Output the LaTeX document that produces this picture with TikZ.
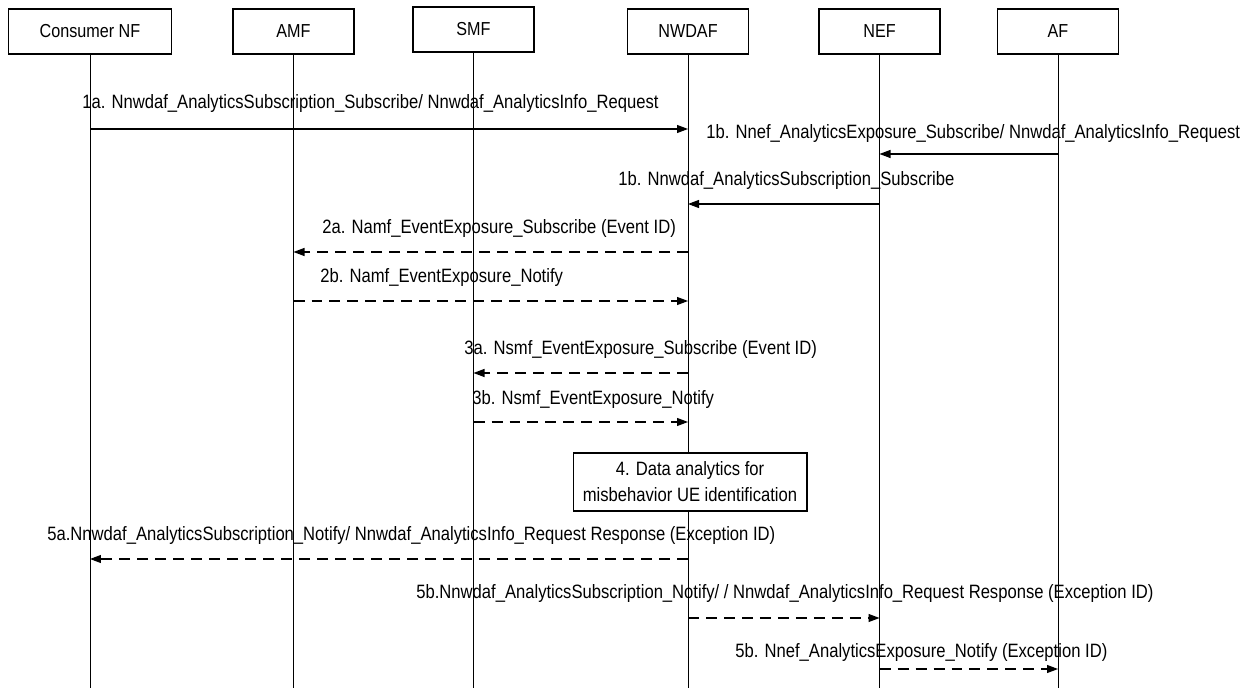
\documentclass[tikz,border=0pt]{standalone}
\usepackage{fontspec}
\setmainfont{Liberation Sans}[FakeStretch=0.86]
\usepackage{tikz}
\usepackage{xcolor}
\usetikzlibrary{arrows.meta, positioning}
\definecolor{lineBlack}{RGB}{0,0,0}
\tikzset{
    partbox/.style={
        rectangle,
        draw=lineBlack,
        line width=0.6pt,
        align=center,
        fill=white,
        minimum width=2.42cm,
        minimum height=0.9cm,
        font=\fontsize{10.7pt}{12pt}\selectfont
    },
    notebox/.style={
        rectangle,
        draw=lineBlack,
        line width=0.6pt,
        align=center,
        fill=white,
        minimum width=4.68cm,
        minimum height=1.16cm,
        inner sep=1pt,
        font=\fontsize{11pt}{14.7pt}\selectfont
    },
    msglabel/.style={anchor=west, inner sep=0pt, font=\fontsize{11pt}{12pt}\selectfont},
    msgarrow/.style={-{Triangle[length=2.2mm, width=1.6mm]}, line width=0.6pt, draw=lineBlack},
    replyarrow/.style={msgarrow, dash pattern=on 0.22cm off 0.14cm},
    lifeline/.style={draw=lineBlack, line width=0.5pt}
}
\begin{document}
\begin{tikzpicture}[x=0.02cm, y=-0.02cm]
        \useasboundingbox (0,0) rectangle (1250,688);
        % participants
        \node[partbox, minimum width=3.26cm] (consumer) at (90,31.5) {Consumer NF};
        \node[partbox] (amf) at (293.5,31.5) {AMF};
        \node[partbox] (smf) at (473.5,29.5) {SMF};
        \node[partbox] (nwdaf) at (688,31.5) {NWDAF};
        \node[partbox] (nef) at (879.5,31.5) {NEF};
        \node[partbox] (af) at (1058,31.5) {AF};
        \foreach \p in {consumer, amf, smf, nwdaf, nef, af} {
            \coordinate (\p end) at (\p |- 0,688);
            \draw[lifeline] (\p.south) -- (\p end);
        }
        % step 4
        \node[notebox] (analytics) at (690,482) {4. Data analytics for\\misbehavior UE identification};
        % messages
        \node[msglabel] (l1a) at (82,104) {1a. Nnwdaf\_AnalyticsSubscription\_Subscribe/ Nnwdaf\_AnalyticsInfo\_Request};
        \draw[msgarrow] (consumer |- 0,129) -- (nwdaf |- 0,129);
        \node[msglabel] (l1b) at (706,134) {1b. Nnef\_AnalyticsExposure\_Subscribe/ Nnwdaf\_AnalyticsInfo\_Request};
        \draw[msgarrow] (af |- 0,154) -- (nef |- 0,154);
        \node[msglabel] (l1c) at (618,181) {1b. Nnwdaf\_AnalyticsSubscription\_Subscribe};
        \draw[msgarrow] (nef |- 0,204) -- (nwdaf |- 0,204);
        \node[msglabel] (l2a) at (322,229) {2a. Namf\_EventExposure\_Subscribe (Event ID)};
        \draw[replyarrow] (nwdaf |- 0,252) -- (amf |- 0,252);
        \node[msglabel] (l2b) at (320,278) {2b. Namf\_EventExposure\_Notify};
        \draw[replyarrow] (amf |- 0,301) -- (nwdaf |- 0,301);
        \node[msglabel] (l3a) at (464,350) {3a. Nsmf\_EventExposure\_Subscribe (Event ID)};
        \draw[replyarrow] (nwdaf |- 0,373) -- (smf |- 0,373);
        \node[msglabel] (l3b) at (472,400) {3b. Nsmf\_EventExposure\_Notify};
        \draw[replyarrow] (smf |- 0,422) -- (nwdaf |- 0,422);
        \node[msglabel] (l5a) at (47,536) {5a.Nnwdaf\_AnalyticsSubscription\_Notify/ Nnwdaf\_AnalyticsInfo\_Request Response (Exception ID)};
        \draw[replyarrow] (nwdaf |- 0,559) -- (consumer |- 0,559);
        \node[msglabel] (l5b) at (416,594) {5b.Nnwdaf\_AnalyticsSubscription\_Notify/ / Nnwdaf\_AnalyticsInfo\_Request Response (Exception ID)};
        \draw[replyarrow] (nwdaf |- 0,618) -- (nef |- 0,618);
        \node[msglabel] (l5c) at (735,653) {5b. Nnef\_AnalyticsExposure\_Notify (Exception ID)};
        \draw[replyarrow] (nef |- 0,669) -- (af |- 0,669);
    \end{tikzpicture}
\end{document}
